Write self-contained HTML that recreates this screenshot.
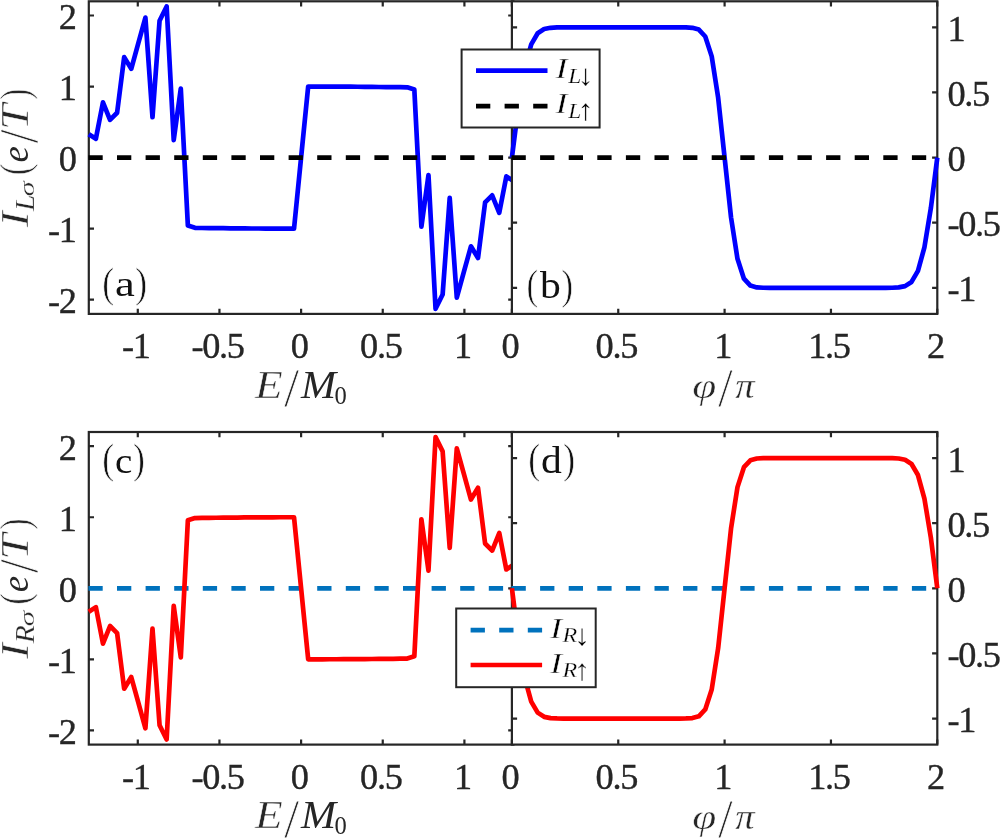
<!DOCTYPE html>
<html><head><meta charset="utf-8"><title>Figure</title>
<style>
html,body{margin:0;padding:0;background:#fff}
svg{display:block}
text{font-family:"Liberation Serif","DejaVu Serif",serif}
.t{font-size:36.3px;letter-spacing:-1.35px;fill:#262626;stroke:#262626;stroke-width:0.35px}
</style></head><body>
<svg width="1000" height="838" viewBox="0 0 1000 838">
<rect width="1000" height="838" fill="#fff"/>
<rect x="88.8" y="1.3" width="424.6" height="312.6" fill="none" stroke="#262626" stroke-width="2.2"/>
<path d="M137.79 313.9v-5.2M137.79 1.3v5.2M219.45 313.9v-5.2M219.45 1.3v5.2M301.1 313.9v-5.2M301.1 1.3v5.2M382.75 313.9v-5.2M382.75 1.3v5.2M464.41 313.9v-5.2M464.41 1.3v5.2M88.8 299.69h5.2M513.4 299.69h-5.2M88.8 228.65h5.2M513.4 228.65h-5.2M88.8 157.6h5.2M513.4 157.6h-5.2M88.8 86.55h5.2M513.4 86.55h-5.2M88.8 15.51h5.2M513.4 15.51h-5.2" stroke="#262626" stroke-width="2.2" fill="none"/>
<polyline points="88.8,134.16 95.88,138.77 102.95,102.33 110.03,119.87 117.11,112.77 124.18,57.14 131.26,68.86 138.34,43.22 145.41,17.64 152.49,117.25 159.57,20.7 166.64,6.42 173.72,140.05 180.8,88.54 187.87,225.59 194.95,227.86 202.03,228.01 209.1,228.08 216.18,228.15 223.26,228.22 230.33,228.29 237.41,228.36 244.49,228.43 251.56,228.5 258.64,228.5 265.72,228.57 272.79,228.57 279.87,228.65 286.95,228.65 294.02,228.65 301.1,157.6 308.18,86.55 315.25,86.55 322.33,86.55 329.41,86.63 336.48,86.63 343.56,86.7 350.64,86.7 357.71,86.77 364.79,86.84 371.87,86.91 378.94,86.98 386.02,87.05 393.1,87.12 400.17,87.19 407.25,87.34 414.33,89.61 421.4,226.66 428.48,175.15 435.56,308.78 442.63,294.5 449.71,197.95 456.79,297.56 463.86,271.98 470.94,246.34 478.02,258.06 485.09,202.43 492.17,195.33 499.25,212.87 506.32,176.43 513.4,181.04" fill="none" stroke="#0000ff" stroke-width="4.7" stroke-linejoin="round"/>
<line x1="88.4" y1="157.6" x2="513.4" y2="157.6" stroke="#000000" stroke-width="4.7" stroke-dasharray="14.3 14.3"/>
<text class="t" x="135.82" y="357.9" text-anchor="middle">-1</text>
<text class="t" x="217.47" y="357.9" text-anchor="middle">-0.5</text>
<text class="t" x="299.12" y="357.9" text-anchor="middle">0</text>
<text class="t" x="380.78" y="357.9" text-anchor="middle">0.5</text>
<text class="t" x="462.43" y="357.9" text-anchor="middle">1</text>
<text class="t" x="75.65" y="313.09" text-anchor="end">-2</text>
<text class="t" x="75.65" y="242.05" text-anchor="end">-1</text>
<text class="t" x="75.65" y="171" text-anchor="end">0</text>
<text class="t" x="75.65" y="99.95" text-anchor="end">1</text>
<text class="t" x="75.65" y="28.91" text-anchor="end">2</text>
<rect x="511.9" y="1.3" width="425.4" height="312.6" fill="#fff"/>
<rect x="511.9" y="1.3" width="425.4" height="312.6" fill="none" stroke="#262626" stroke-width="2.2"/>
<path d="M511.9 313.9v-5.2M511.9 1.3v5.2M618.25 313.9v-5.2M618.25 1.3v5.2M724.6 313.9v-5.2M724.6 1.3v5.2M830.95 313.9v-5.2M830.95 1.3v5.2M937.3 313.9v-5.2M937.3 1.3v5.2M511.9 287.85h5.2M937.3 287.85h-5.2M511.9 222.72h5.2M937.3 222.72h-5.2M511.9 157.6h5.2M937.3 157.6h-5.2M511.9 92.47h5.2M937.3 92.47h-5.2M511.9 27.35h5.2M937.3 27.35h-5.2" stroke="#262626" stroke-width="2.2" fill="none"/>
<polyline points="511.9,157.6 518.35,106.96 524.79,67.83 531.24,44.34 537.68,33.26 544.13,29.07 550.57,27.78 557.02,27.45 563.46,27.37 569.91,27.35 576.35,27.35 582.8,27.35 589.25,27.35 595.69,27.35 602.14,27.35 608.58,27.35 615.03,27.35 621.47,27.35 627.92,27.35 634.36,27.35 640.81,27.35 647.25,27.35 653.7,27.35 660.15,27.35 666.59,27.35 673.04,27.35 679.48,27.36 685.93,27.43 692.37,27.8 698.82,29.59 705.26,36.49 711.71,56.4 718.15,97.69 724.6,157.6 731.05,217.51 737.49,258.8 743.94,278.71 750.38,285.61 756.83,287.4 763.27,287.77 769.72,287.84 776.16,287.85 782.61,287.85 789.05,287.85 795.5,287.85 801.95,287.85 808.39,287.85 814.84,287.85 821.28,287.85 827.73,287.85 834.17,287.85 840.62,287.85 847.06,287.85 853.51,287.85 859.95,287.85 866.4,287.85 872.85,287.85 879.29,287.85 885.74,287.83 892.18,287.75 898.63,287.42 905.07,286.13 911.52,281.94 917.96,270.86 924.41,247.37 930.85,208.24 937.3,157.6" fill="none" stroke="#0000ff" stroke-width="4.7" stroke-linejoin="round"/>
<line x1="511.5" y1="157.6" x2="937.3" y2="157.6" stroke="#000000" stroke-width="4.7" stroke-dasharray="14.3 14.3"/>
<text class="t" x="509.92" y="357.9" text-anchor="middle">0</text>
<text class="t" x="616.28" y="357.9" text-anchor="middle">0.5</text>
<text class="t" x="722.62" y="357.9" text-anchor="middle">1</text>
<text class="t" x="828.98" y="357.9" text-anchor="middle">1.5</text>
<text class="t" x="935.33" y="357.9" text-anchor="middle">2</text>
<text class="t" x="947.5" y="301.45" text-anchor="start">-1</text>
<text class="t" x="947.5" y="236.32" text-anchor="start">-0.5</text>
<text class="t" x="947.5" y="171.2" text-anchor="start">0</text>
<text class="t" x="947.5" y="106.07" text-anchor="start">0.5</text>
<text class="t" x="947.5" y="40.95" text-anchor="start">1</text>
<text transform="translate(255.03,397.7) scale(1.155,1)" font-size="39.25" fill="#262626" font-style="italic" stroke="#fff" stroke-width="0.47">E</text>
<text transform="translate(284,406.46) scale(0.984,1)" font-size="55.61" fill="#262626" stroke="#fff" stroke-width="0.80">/</text>
<text transform="translate(300.99,397.7) scale(1.073,1)" font-size="39.25" fill="#262626" font-style="italic">M</text>
<text transform="translate(334.47,403.74) scale(0.936,1)" font-size="26.23" fill="#262626">0</text>
<text transform="translate(692.21,398.23) scale(1.187,1)" font-size="36.52" fill="#262626" font-style="italic" stroke="#fff" stroke-width="0.47">φ</text>
<text transform="translate(718,406.46) scale(0.958,1)" font-size="55.61" fill="#262626" stroke="#fff" stroke-width="0.80">/</text>
<text transform="translate(735.29,397.96) scale(1.109,1)" font-size="34.77" fill="#262626" font-style="italic" stroke="#fff" stroke-width="0.31">π</text>
<g transform="rotate(-90)">
<text transform="translate(-226.92,28.2) scale(1.195,1)" font-size="39.4" fill="#262626" font-style="italic" stroke="#fff" stroke-width="0.51">I</text>
<text transform="translate(-211.06,33.9) scale(1.119,1)" font-size="26.27" fill="#262626" font-style="italic" stroke="#fff" stroke-width="0.25">L</text>
<text transform="translate(-196.52,33.89) scale(1.450,1)" font-size="21.32" fill="#262626" font-style="italic" stroke="#fff" stroke-width="0.28">σ</text>
<text transform="translate(-175.14,28.85) scale(0.843,1)" font-size="41.58" fill="#262626" stroke="#fff" stroke-width="0.70">(</text>
<text transform="translate(-162.53,28.24) scale(0.996,1)" font-size="37.01" fill="#262626" font-style="italic">e</text>
<text transform="translate(-143.3,36.66) scale(0.900,1)" font-size="55.61" fill="#262626" stroke="#fff" stroke-width="0.80">/</text>
<text transform="translate(-130.07,28.2) scale(1.191,1)" font-size="39.4" fill="#262626" font-style="italic" stroke="#fff" stroke-width="0.51">T</text>
<text transform="translate(-99.87,28.85) scale(0.796,1)" font-size="41.58" fill="#262626" stroke="#fff" stroke-width="0.70">)</text>
</g>
<rect x="88.8" y="432" width="424.6" height="312.6" fill="none" stroke="#262626" stroke-width="2.2"/>
<path d="M137.79 744.6v-5.2M137.79 432v5.2M219.45 744.6v-5.2M219.45 432v5.2M301.1 744.6v-5.2M301.1 432v5.2M382.75 744.6v-5.2M382.75 432v5.2M464.41 744.6v-5.2M464.41 432v5.2M88.8 730.39h5.2M513.4 730.39h-5.2M88.8 659.35h5.2M513.4 659.35h-5.2M88.8 588.3h5.2M513.4 588.3h-5.2M88.8 517.25h5.2M513.4 517.25h-5.2M88.8 446.21h5.2M513.4 446.21h-5.2" stroke="#262626" stroke-width="2.2" fill="none"/>
<line x1="88.4" y1="588.3" x2="513.4" y2="588.3" stroke="#0072bd" stroke-width="4.7" stroke-dasharray="14.3 14.3"/>
<polyline points="88.8,611.75 95.88,607.13 102.95,643.57 110.03,626.03 117.11,633.13 124.18,688.76 131.26,677.04 138.34,702.68 145.41,728.26 152.49,628.65 159.57,725.2 166.64,739.48 173.72,605.85 180.8,657.36 187.87,520.31 194.95,518.04 202.03,517.89 209.1,517.82 216.18,517.75 223.26,517.68 230.33,517.61 237.41,517.54 244.49,517.47 251.56,517.4 258.64,517.4 265.72,517.33 272.79,517.33 279.87,517.25 286.95,517.25 294.02,517.25 301.1,588.3 308.18,659.35 315.25,659.35 322.33,659.35 329.41,659.27 336.48,659.27 343.56,659.2 350.64,659.2 357.71,659.13 364.79,659.06 371.87,658.99 378.94,658.92 386.02,658.85 393.1,658.78 400.17,658.71 407.25,658.56 414.33,656.29 421.4,519.24 428.48,570.75 435.56,437.12 442.63,451.4 449.71,547.95 456.79,448.34 463.86,473.92 470.94,499.56 478.02,487.84 485.09,543.47 492.17,550.57 499.25,533.03 506.32,569.47 513.4,564.85" fill="none" stroke="#ff0000" stroke-width="4.7" stroke-linejoin="round"/>
<text class="t" x="135.82" y="788.6" text-anchor="middle">-1</text>
<text class="t" x="217.47" y="788.6" text-anchor="middle">-0.5</text>
<text class="t" x="299.12" y="788.6" text-anchor="middle">0</text>
<text class="t" x="380.78" y="788.6" text-anchor="middle">0.5</text>
<text class="t" x="462.43" y="788.6" text-anchor="middle">1</text>
<text class="t" x="75.65" y="743.79" text-anchor="end">-2</text>
<text class="t" x="75.65" y="672.75" text-anchor="end">-1</text>
<text class="t" x="75.65" y="601.7" text-anchor="end">0</text>
<text class="t" x="75.65" y="530.65" text-anchor="end">1</text>
<text class="t" x="75.65" y="459.61" text-anchor="end">2</text>
<rect x="511.9" y="432" width="425.4" height="312.6" fill="#fff"/>
<rect x="511.9" y="432" width="425.4" height="312.6" fill="none" stroke="#262626" stroke-width="2.2"/>
<path d="M511.9 744.6v-5.2M511.9 432v5.2M618.25 744.6v-5.2M618.25 432v5.2M724.6 744.6v-5.2M724.6 432v5.2M830.95 744.6v-5.2M830.95 432v5.2M937.3 744.6v-5.2M937.3 432v5.2M511.9 718.55h5.2M937.3 718.55h-5.2M511.9 653.42h5.2M937.3 653.42h-5.2M511.9 588.3h5.2M937.3 588.3h-5.2M511.9 523.17h5.2M937.3 523.17h-5.2M511.9 458.05h5.2M937.3 458.05h-5.2" stroke="#262626" stroke-width="2.2" fill="none"/>
<line x1="511.5" y1="588.3" x2="937.3" y2="588.3" stroke="#0072bd" stroke-width="4.7" stroke-dasharray="14.3 14.3"/>
<polyline points="511.9,588.3 518.35,638.94 524.79,678.07 531.24,701.56 537.68,712.64 544.13,716.83 550.57,718.12 557.02,718.45 563.46,718.53 569.91,718.55 576.35,718.55 582.8,718.55 589.25,718.55 595.69,718.55 602.14,718.55 608.58,718.55 615.03,718.55 621.47,718.55 627.92,718.55 634.36,718.55 640.81,718.55 647.25,718.55 653.7,718.55 660.15,718.55 666.59,718.55 673.04,718.55 679.48,718.54 685.93,718.47 692.37,718.1 698.82,716.31 705.26,709.41 711.71,689.5 718.15,648.21 724.6,588.3 731.05,528.39 737.49,487.1 743.94,467.19 750.38,460.29 756.83,458.5 763.27,458.13 769.72,458.06 776.16,458.05 782.61,458.05 789.05,458.05 795.5,458.05 801.95,458.05 808.39,458.05 814.84,458.05 821.28,458.05 827.73,458.05 834.17,458.05 840.62,458.05 847.06,458.05 853.51,458.05 859.95,458.05 866.4,458.05 872.85,458.05 879.29,458.05 885.74,458.07 892.18,458.15 898.63,458.48 905.07,459.77 911.52,463.96 917.96,475.04 924.41,498.53 930.85,537.66 937.3,588.3" fill="none" stroke="#ff0000" stroke-width="4.7" stroke-linejoin="round"/>
<text class="t" x="509.92" y="788.6" text-anchor="middle">0</text>
<text class="t" x="616.28" y="788.6" text-anchor="middle">0.5</text>
<text class="t" x="722.62" y="788.6" text-anchor="middle">1</text>
<text class="t" x="828.98" y="788.6" text-anchor="middle">1.5</text>
<text class="t" x="935.33" y="788.6" text-anchor="middle">2</text>
<text class="t" x="947.5" y="732.15" text-anchor="start">-1</text>
<text class="t" x="947.5" y="667.02" text-anchor="start">-0.5</text>
<text class="t" x="947.5" y="601.9" text-anchor="start">0</text>
<text class="t" x="947.5" y="536.77" text-anchor="start">0.5</text>
<text class="t" x="947.5" y="471.65" text-anchor="start">1</text>
<text transform="translate(255.03,828.4) scale(1.155,1)" font-size="39.25" fill="#262626" font-style="italic" stroke="#fff" stroke-width="0.47">E</text>
<text transform="translate(284,837.16) scale(0.984,1)" font-size="55.61" fill="#262626" stroke="#fff" stroke-width="0.80">/</text>
<text transform="translate(300.99,828.4) scale(1.073,1)" font-size="39.25" fill="#262626" font-style="italic">M</text>
<text transform="translate(334.47,834.44) scale(0.936,1)" font-size="26.23" fill="#262626">0</text>
<text transform="translate(692.21,828.93) scale(1.187,1)" font-size="36.52" fill="#262626" font-style="italic" stroke="#fff" stroke-width="0.47">φ</text>
<text transform="translate(718,837.16) scale(0.958,1)" font-size="55.61" fill="#262626" stroke="#fff" stroke-width="0.80">/</text>
<text transform="translate(735.29,828.66) scale(1.109,1)" font-size="34.77" fill="#262626" font-style="italic" stroke="#fff" stroke-width="0.31">π</text>
<g transform="rotate(-90)">
<text transform="translate(-658.82,28.2) scale(1.188,1)" font-size="39.4" fill="#262626" font-style="italic" stroke="#fff" stroke-width="0.51">I</text>
<text transform="translate(-643.14,33.9) scale(1.124,1)" font-size="26.27" fill="#262626" font-style="italic" stroke="#fff" stroke-width="0.26">R</text>
<text transform="translate(-626.55,33.89) scale(1.497,1)" font-size="21.32" fill="#262626" font-style="italic" stroke="#fff" stroke-width="0.28">σ</text>
<text transform="translate(-604.74,28.85) scale(0.843,1)" font-size="41.58" fill="#262626" stroke="#fff" stroke-width="0.70">(</text>
<text transform="translate(-592.13,28.24) scale(0.996,1)" font-size="37.01" fill="#262626" font-style="italic">e</text>
<text transform="translate(-572.9,36.66) scale(0.900,1)" font-size="55.61" fill="#262626" stroke="#fff" stroke-width="0.80">/</text>
<text transform="translate(-559.67,28.2) scale(1.191,1)" font-size="39.4" fill="#262626" font-style="italic" stroke="#fff" stroke-width="0.51">T</text>
<text transform="translate(-529.47,28.85) scale(0.796,1)" font-size="41.58" fill="#262626" stroke="#fff" stroke-width="0.70">)</text>
</g>
<text transform="translate(102.23,296.63) scale(0.850,1)" font-size="42.13" fill="#111" stroke="#fff" stroke-width="0.70">(</text>
<text transform="translate(115.03,295.65) scale(1.241,1)" font-size="35.91" fill="#111">a</text>
<text transform="translate(135.02,296.63) scale(0.869,1)" font-size="42.13" fill="#111" stroke="#fff" stroke-width="0.70">)</text>
<text transform="translate(526.46,298.77) scale(0.845,1)" font-size="41.47" fill="#111" stroke="#fff" stroke-width="0.70">(</text>
<text transform="translate(540,298.03) scale(1.108,1)" font-size="37.52" fill="#111">b</text>
<text transform="translate(561.25,298.77) scale(0.864,1)" font-size="41.47" fill="#111" stroke="#fff" stroke-width="0.70">)</text>
<text transform="translate(102.23,473.13) scale(0.859,1)" font-size="41.69" fill="#111" stroke="#fff" stroke-width="0.70">(</text>
<text transform="translate(114.92,472.84) scale(1.064,1)" font-size="36.59" fill="#111">c</text>
<text transform="translate(133.05,473.13) scale(0.859,1)" font-size="41.69" fill="#111" stroke="#fff" stroke-width="0.70">)</text>
<text transform="translate(528.23,473.13) scale(0.859,1)" font-size="41.69" fill="#111" stroke="#fff" stroke-width="0.70">(</text>
<text transform="translate(540.9,472.83) scale(1.093,1)" font-size="38.09" fill="#111">d</text>
<text transform="translate(563.02,473.13) scale(0.878,1)" font-size="41.69" fill="#111" stroke="#fff" stroke-width="0.70">)</text>
<rect x="461.6" y="49.5" width="138" height="78" fill="#fff" stroke="#262626" stroke-width="2"/>
<line x1="476" y1="70.7" x2="547.5" y2="70.7" stroke="#0000ff" stroke-width="4.7"/>
<text transform="translate(555.44,78.2) scale(1.196,1)" font-size="30.24" fill="#000" font-style="italic" stroke="#fff" stroke-width="0.39">I</text>
<text transform="translate(568.17,82.7) scale(1.128,1)" font-size="20.77" fill="#000" font-style="italic" stroke="#fff" stroke-width="0.21">L</text>
<text transform="translate(577.49,85.22) scale(1.097,1)" font-size="29.57" fill="#000" stroke="#fff" stroke-width="0.25">↓</text>
<line x1="476" y1="106.1" x2="547.5" y2="106.1" stroke="#000000" stroke-width="4.7" stroke-dasharray="14.3 14.3"/>
<text transform="translate(555.44,113) scale(1.215,1)" font-size="29.78" fill="#000" font-style="italic" stroke="#fff" stroke-width="0.39">I</text>
<text transform="translate(568.17,117.5) scale(1.154,1)" font-size="20.31" fill="#000" font-style="italic" stroke="#fff" stroke-width="0.24">L</text>
<text transform="translate(577.49,120.31) scale(1.084,1)" font-size="29.91" fill="#000" stroke="#fff" stroke-width="0.25">↑</text>
<rect x="456.2" y="608.5" width="139.5" height="78.7" fill="#fff" stroke="#262626" stroke-width="2"/>
<line x1="470.6" y1="630.1" x2="542.1" y2="630.1" stroke="#0072bd" stroke-width="4.7" stroke-dasharray="14.3 14.3"/>
<text transform="translate(550.04,637.9) scale(1.202,1)" font-size="30.09" fill="#000" font-style="italic" stroke="#fff" stroke-width="0.39">I</text>
<text transform="translate(562.43,642.4) scale(1.165,1)" font-size="20.62" fill="#000" font-style="italic" stroke="#fff" stroke-width="0.26">R</text>
<text transform="translate(573.68,644.52) scale(1.132,1)" font-size="29.4" fill="#000" stroke="#fff" stroke-width="0.25">↓</text>
<line x1="470.6" y1="665" x2="542.1" y2="665" stroke="#ff0000" stroke-width="4.7"/>
<text transform="translate(550.04,672.9) scale(1.215,1)" font-size="29.78" fill="#000" font-style="italic" stroke="#fff" stroke-width="0.39">I</text>
<text transform="translate(562.43,677.4) scale(1.182,1)" font-size="20.31" fill="#000" font-style="italic" stroke="#fff" stroke-width="0.26">R</text>
<text transform="translate(573.68,679.52) scale(1.125,1)" font-size="29.57" fill="#000" stroke="#fff" stroke-width="0.25">↑</text>
</svg>
</body></html>
